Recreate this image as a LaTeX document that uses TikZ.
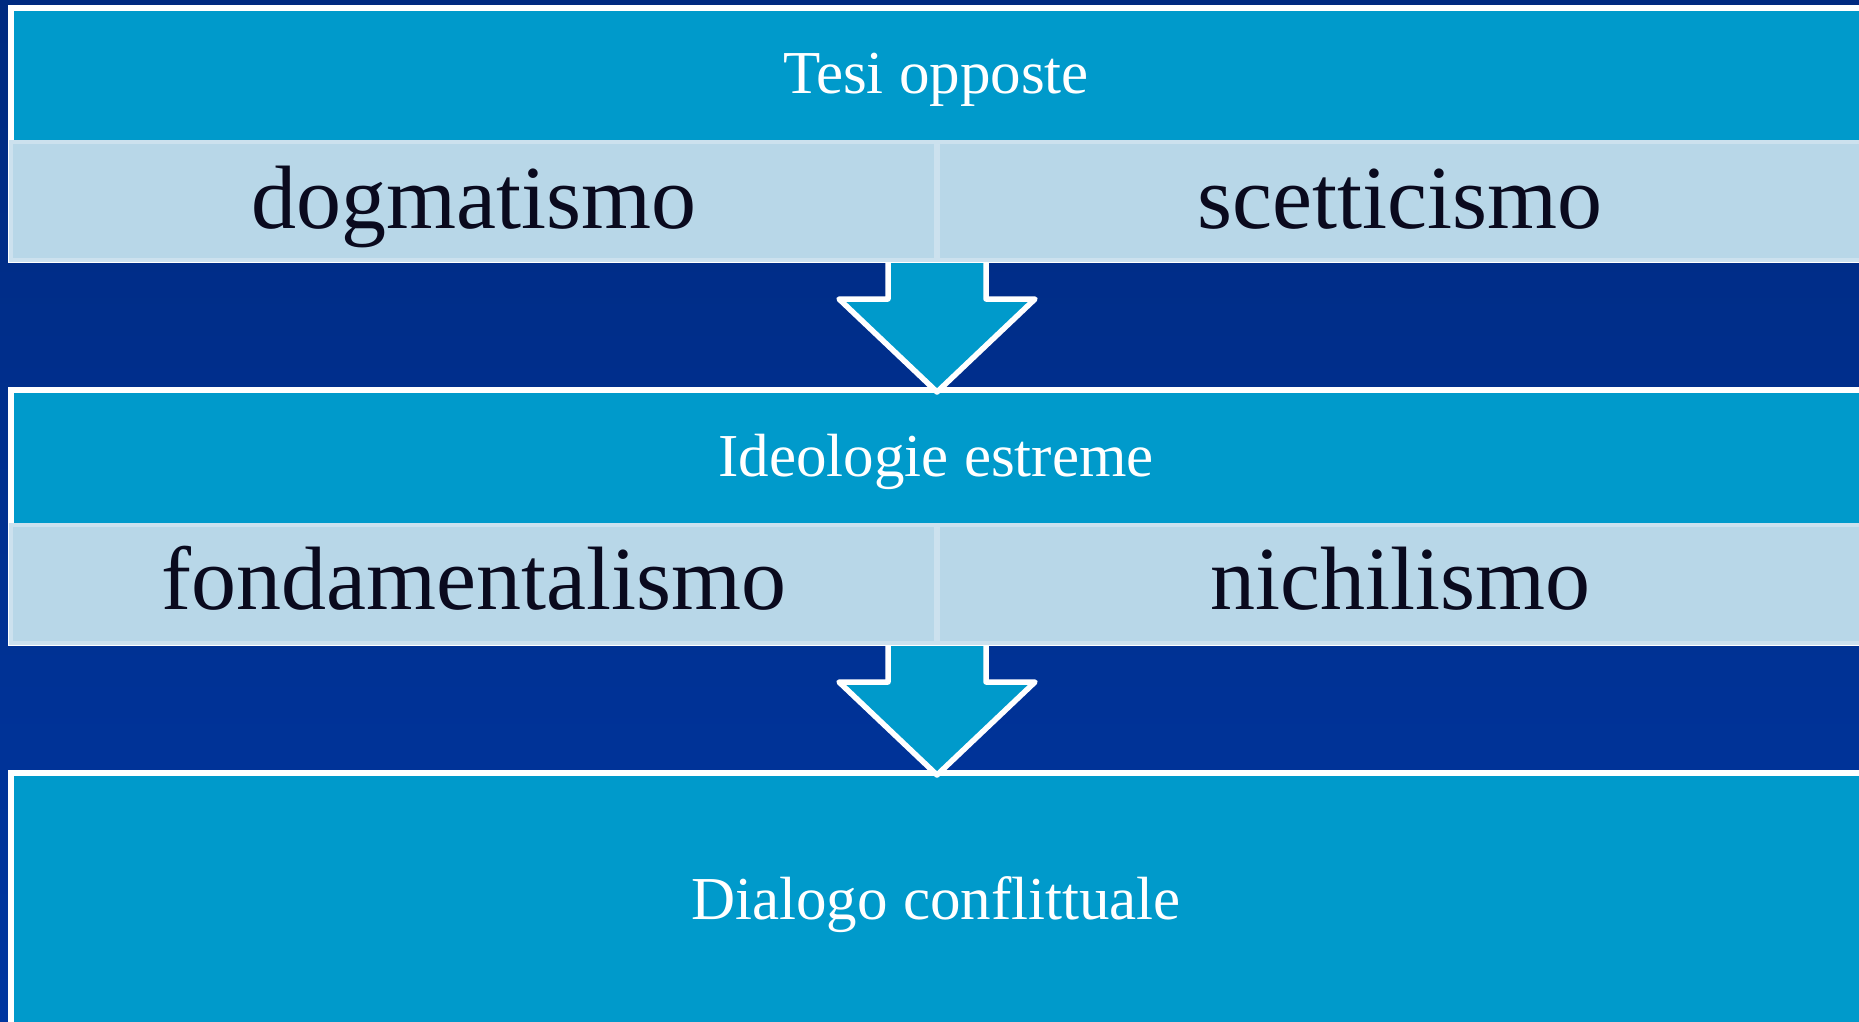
\documentclass[tikz,border=0pt]{standalone}
\usepackage{fontspec}
\setmainfont{Liberation Serif}
\definecolor{midblue}{HTML}{009ACB}
\definecolor{lightband}{HTML}{B8D7E8}
\definecolor{bandedge}{HTML}{CCE1EE}
\definecolor{bgtop}{HTML}{002A80}
\definecolor{bgbot}{HTML}{0036A0}
\definecolor{darktext}{HTML}{0A0A1E}
\begin{document}
\begin{tikzpicture}[x=1pt,y=-1pt,
  mainbox/.style={fill=midblue, draw=white, line width=5.5pt},
  band/.style={fill=lightband, draw=bandedge, line width=4.5pt},
  divider/.style={draw=bandedge, line width=5.5pt},
  title/.style={text=white, font=\fontsize{61}{61}\selectfont, anchor=base, inner sep=0pt},
  word/.style={text=darktext, font=\fontsize{90}{90}\selectfont, anchor=base, inner sep=0pt},
  blockarrow/.style={fill=midblue, draw=white, line width=5.5pt, line join=round}]
\useasboundingbox (0,0) rectangle (1859,1021);
\shade[top color=bgtop, bottom color=bgbot] (0,0) rectangle (1859,1021);

% level 1
\draw[mainbox] (11,8) rectangle (1864,260);
\draw[band] (11,142) rectangle (1864,260);
\draw[divider] (937,144) -- (937,258);
% level 2
\draw[mainbox] (11,390) rectangle (1864,643);
\draw[band] (11,525) rectangle (1864,643);
\draw[divider] (937,527) -- (937,641);
% level 3
\draw[mainbox] (11,773) rectangle (1864,1040);

% block arrows
\coordinate (a1) at (937,263);
\coordinate (a2) at (937,646);
\begin{scope}[shift={(a1)}]
  \draw[blockarrow] (-49,0) -- (-49,36) -- (-98,36) -- (0,129) -- (98,36) -- (49,36) -- (49,0);
\end{scope}
\begin{scope}[shift={(a2)}]
  \draw[blockarrow] (-49,0) -- (-49,36) -- (-98,36) -- (0,129) -- (98,36) -- (49,36) -- (49,0);
\end{scope}

% texts
\node[title] (t1) at (936,93) {Tesi opposte};
\node[word] (w1) at (474,228) {dogmatismo};
\node[word] (w2) at (1400,228) {scetticismo};
\node[title] (t2) at (936,476) {Ideologie estreme};
\node[word] (w3) at (474,609) {fondamentalismo};
\node[word] (w4) at (1400,609) {nichilismo};
\node[title] (t3) at (936,919) {Dialogo conflittuale};
\end{tikzpicture}
\end{document}
